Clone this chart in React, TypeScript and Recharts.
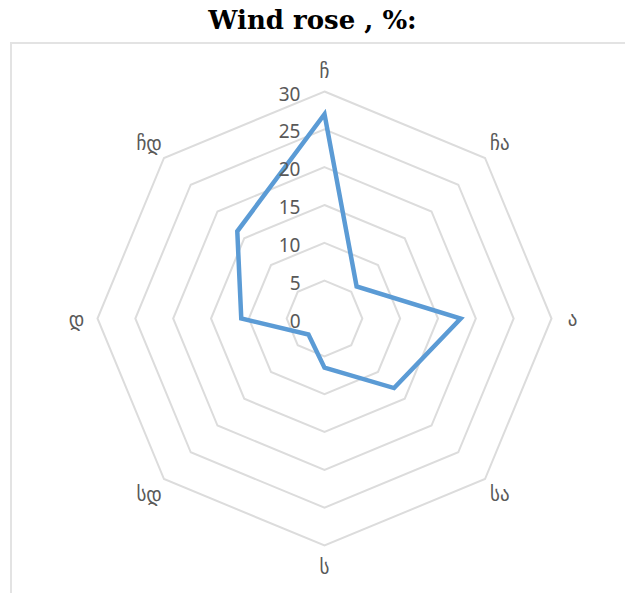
import { RadarChart, Radar, PolarGrid, PolarAngleAxis, PolarRadiusAxis } from "recharts";

const directions = ["ჩ", "ჩა", "ა", "სა", "ს", "სდ", "დ", "ჩდ"];
const windShare = [27, 6, 18, 13, 6.5, 3, 11, 16.3];
const radiusTicks = [0, 5, 10, 15, 20, 25, 30];

const data = directions.map((dir, i) => ({ dir, value: windShare[i] }));

const CX = 324.5;
const CY = 318.5;
const R = 227;

function AngleTick(props: any) {
  const { x, y, payload } = props;
  const a = Math.atan2(y - CY, x - CX);
  const d = R + 21;
  return (
    <text
      x={CX + Math.cos(a) * d}
      y={CY + Math.sin(a) * d}
      textAnchor="middle"
      dominantBaseline="central"
      fill="#595959"
      fontSize={19}
      fontFamily="DejaVu Sans"
    >
      {payload.value}
    </text>
  );
}

function RadiusTick(props: any) {
  const { y, payload } = props;
  return (
    <text
      x={CX - 24}
      y={y + 2}
      textAnchor="end"
      dominantBaseline="central"
      fill="#595959"
      fontSize={19}
      fontFamily="Noto Sans"
    >
      {payload.value}
    </text>
  );
}

export default function App() {
  return (
    <div style={{ position: "absolute", left: 0, top: 0, width: 625, height: 593, background: "#fff", overflow: "hidden" }}>
      <div
        style={{
          position: "absolute",
          left: 0,
          top: 5,
          width: 625,
          textAlign: "center",
          fontFamily: "DejaVu Serif",
          fontSize: 26,
          fontWeight: 600,
          color: "#000",
        }}
      >
        Wind rose , %:
      </div>
      <div
        style={{
          position: "absolute",
          left: 10,
          top: 42,
          width: 700,
          height: 700,
          border: "2px solid #e3e3e3",
        }}
      />
      <div style={{ position: "absolute", left: 0, top: 0 }}>
        <RadarChart width={625} height={593} data={data} cx={CX} cy={CY} outerRadius={R}>
          <PolarGrid gridType="polygon" radialLines={false} stroke="#dcdcdc" strokeWidth={2} />
          <PolarAngleAxis dataKey="dir" axisLine={false} tickLine={false} tick={<AngleTick />} />
          <PolarRadiusAxis
            angle={90}
            domain={[0, 30]}
            ticks={radiusTicks as any}
            tickCount={7}
            axisLine={false}
            tickLine={false}
            tick={<RadiusTick />}
          />
          <Radar
            dataKey="value"
            stroke="#5b9bd5"
            strokeWidth={4.5}
            fill="none"
            fillOpacity={0}
            isAnimationActive={false}
          />
        </RadarChart>
      </div>
    </div>
  );
}
